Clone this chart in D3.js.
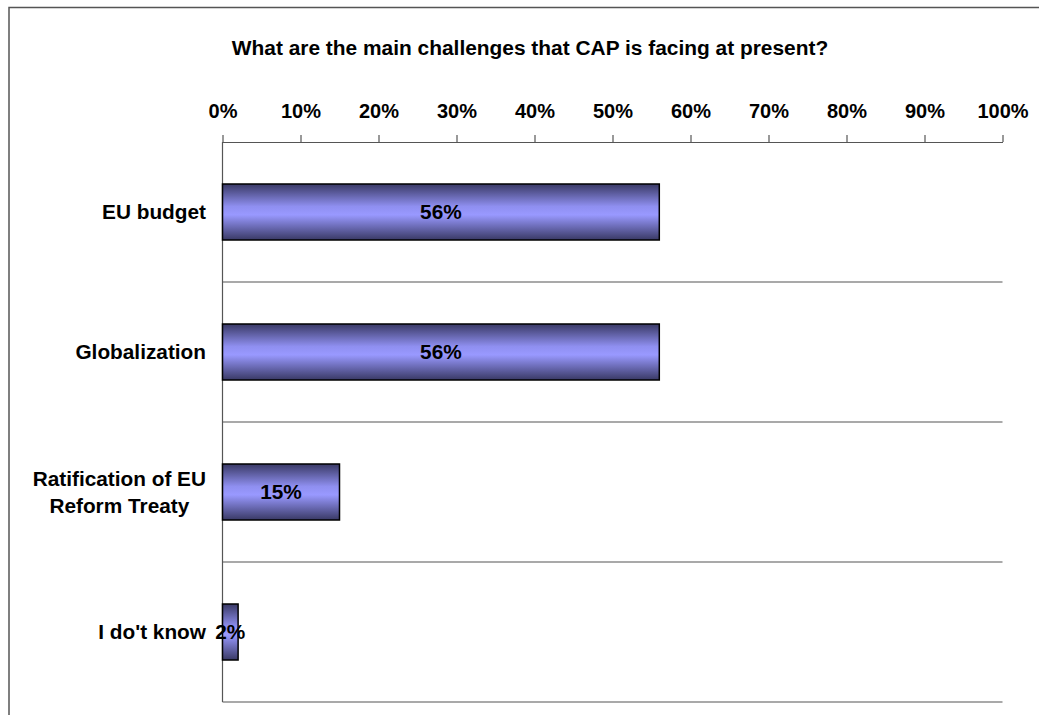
<!DOCTYPE html>
<html>
<head>
<meta charset="utf-8">
<style>
body { margin: 0; background: #fff; }
text { font-family: "Liberation Sans", Arial, Helvetica, sans-serif; font-weight: bold; fill: #000; }
</style>
</head>
<body>
<svg id='chart'></svg>

<script src="https://d3js.org/d3.v7.min.js"></script>
<script>
WIDTH = 1039
HEIGHT = 715
TITLE = 'What are the main challenges that CAP is facing at present?'

// data
categories = [['EU budget'], ['Globalization'], ['Ratification of EU', 'Reform Treaty'], ["I do't know"]]
values = [56, 56, 15, 2]
tickValues = [0, 10, 20, 30, 40, 50, 60, 70, 80, 90, 100]

PLOT = {left: 222.5, right: 1002.5, top: 142, bottom: 702}
LABEL_RIGHT = 206

var svg = d3.select('#chart')
	.attr('width', WIDTH)
	.attr('height', HEIGHT)

// gradient for the bars, dark edges and light middle
var grad = svg.append('defs')
	.append('linearGradient')
	.attr('id', 'barFill')
	.attr('x1', 0).attr('y1', 0)
	.attr('x2', 0).attr('y2', 1)
grad.append('stop').attr('offset', '0%').attr('stop-color', '#393965')
grad.append('stop').attr('offset', '40%').attr('stop-color', '#8f8ff0')
grad.append('stop').attr('offset', '55%').attr('stop-color', '#9999ff')
grad.append('stop').attr('offset', '100%').attr('stop-color', '#393965')

// outer chart frame (runs off the right and bottom edges)
svg.append('rect')
	.attr('x', 9)
	.attr('y', 7.5)
	.attr('width', 1200)
	.attr('height', 900)
	.style('fill', 'none')
	.style('stroke', '#555')
	.style('stroke-width', 1.5)

svg.append('text')
	.attr('x', 530)
	.attr('y', 55)
	.attr('text-anchor', 'middle')
	.attr('font-size', 20.9)
	.text(TITLE)

var x = d3.scaleLinear()
	.domain([0, 100])
	.range([PLOT.left, PLOT.right])

var keys = categories.map(function(d){ return d.join(' '); })
var y = d3.scaleBand()
	.domain(keys)
	.range([PLOT.top, PLOT.bottom])
	.padding(0)

// separators between the categories
svg.append('g')
	.selectAll('line')
	.data(keys)
	.enter()
	.append('line')
	.attr('x1', PLOT.left)
	.attr('x2', PLOT.right)
	.attr('y1', function(d){ return y(d) + y.bandwidth(); })
	.attr('y2', function(d){ return y(d) + y.bandwidth(); })
	.style('stroke', '#555')
	.style('stroke-width', 1.2)

// left axis line
svg.append('line')
	.attr('x1', PLOT.left)
	.attr('x2', PLOT.left)
	.attr('y1', PLOT.top)
	.attr('y2', PLOT.bottom)
	.style('stroke', '#555')
	.style('stroke-width', 1.2)

var xAxis = d3.axisTop(x)
	.tickValues(tickValues)
	.tickSize(7)
	.tickSizeOuter(0)
	.tickPadding(17)
	.tickFormat(function(d){ return d + '%'; })

var axisG = svg.append('g')
	.attr('transform', 'translate(0,' + PLOT.top + ')')
	.call(xAxis)
axisG.selectAll('path, line').style('stroke', '#555').style('stroke-width', 1.2)
axisG.selectAll('text')
	.attr('font-size', 20)
	.attr('font-family', '"Liberation Sans", Arial, sans-serif')
	.attr('font-weight', 'bold')
	.style('fill', '#000')

var barH = y.bandwidth() * 0.4
var barOff = y.bandwidth() * 0.3

svg.append('g')
	.selectAll('rect')
	.data(values)
	.enter()
	.append('rect')
	.attr('x', x(0))
	.attr('y', function(d, i){ return y(keys[i]) + barOff; })
	.attr('width', function(d){ return x(d) - x(0); })
	.attr('height', barH)
	.style('fill', 'url(#barFill)')
	.style('stroke', '#000')
	.style('stroke-width', 1.5)

// value labels in the middle of each bar
svg.append('g')
	.selectAll('text')
	.data(values)
	.enter()
	.append('text')
	.attr('x', function(d){ return (x(0) + x(d)) / 2; })
	.attr('y', function(d, i){ return y(keys[i]) + y.bandwidth() / 2; })
	.attr('dy', '0.35em')
	.attr('text-anchor', 'middle')
	.attr('font-size', 20.8)
	.text(function(d){ return d + '%'; })

// category labels, lines centred on each other, block right aligned
var lineGap = 26.5
categories.forEach(function(lines, i) {
	var cy = y(keys[i]) + y.bandwidth() / 2
	var g = svg.append('g')
	var texts = lines.map(function(line, j) {
		return g.append('text')
			.attr('y', cy + (j - (lines.length - 1) / 2) * lineGap)
			.attr('dy', '0.35em')
			.attr('text-anchor', 'middle')
			.attr('font-size', 20.8)
			.text(line)
	})
	var maxW = d3.max(texts, function(t){ return t.node().getComputedTextLength(); })
	texts.forEach(function(t){ t.attr('x', LABEL_RIGHT - maxW / 2); })
})
</script>

</body>
</html>
